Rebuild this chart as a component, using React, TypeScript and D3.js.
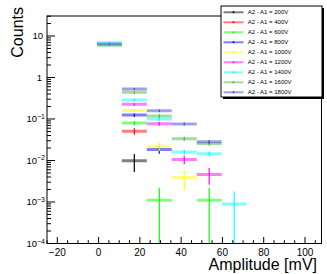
import React from "react";
import * as d3 from "d3";

// ---- data ----
const xMin = -25;
const xMax = 108;
const nBins = 11;
const firstBin = 2; // index of first populated bin (values below start here)

const seriesLabels = [
  "A2 - A1 = 200V",
  "A2 - A1 = 400V",
  "A2 - A1 = 600V",
  "A2 - A1 = 800V",
  "A2 - A1 = 1000V",
  "A2 - A1 = 1200V",
  "A2 - A1 = 1400V",
  "A2 - A1 = 1600V",
  "A2 - A1 = 1800V",
];

const v200 = [null, 0.0098, null, null, null, null];
const v400 = [null, 0.051, null, null, null, null];
const v600 = [null, 0.08, 0.0011, null, 0.0011, null];
const v800 = [null, 0.124, 0.0185, null, null, null];
const v1000 = [null, 0.161, 0.0219, 0.0039, null, null];
const v1200 = [null, 0.225, 0.0767, 0.0106, 0.0046, null];
const v1400 = [6.9, 0.286, 0.1, 0.016, 0.0145, 0.00089];
const v1600 = [6.0, 0.438, 0.118, 0.0334, 0.0256, null];
const v1800 = [6.4, 0.527, 0.158, 0.0755, 0.0282, null];

const e200 = [null, 0.0045, null, null, null, null];
const e400 = [null, 0.009, null, null, null, null];
const e600 = [null, 0.0096, 0.0011, null, 0.0011, null];
const e800 = [null, 0.012, 0.004, null, null, null];
const e1000 = [null, 0.012, 0.005, 0.002, null, null];
const e1200 = [null, 0.015, 0.008, 0.0025, 0.002, null];
const e1400 = [0.15, 0.02, 0.01, 0.0023, 0.002, 0.00089];
const e1600 = [0.15, 0.03, 0.012, 0.004, 0.003, null];
const e1800 = [0.15, 0.03, 0.012, 0.006, 0.003, null];

const seriesValues = [v200, v400, v600, v800, v1000, v1200, v1400, v1600, v1800];
const seriesErrors = [e200, e400, e600, e800, e1000, e1200, e1400, e1600, e1800];

const xTickValues = [-20, 0, 20, 40, 60, 80, 100];
const yDecades = [-4, -3, -2, -1, 0, 1];

// ---- styles ----
const colors = [
  "#000000",
  "#ff0000",
  "#00ff00",
  "#0000ff",
  "#ffff00",
  "#ff00ff",
  "#00ffff",
  "#44bb44",
  "#4444cc",
];
const FONT = "'Liberation Sans', Arial, Helvetica, sans-serif";

export default function App() {
  const W = 327;
  const H = 274;
  const left = 47;
  const right = 321.5;
  const top = 16;
  const bottom = 243.5;

  const x = d3.scaleLinear().domain([xMin, xMax]).range([left, right]);
  const y = d3.scaleLog().domain([1e-4, 30.3]).range([bottom, top]);
  const bw = (xMax - xMin) / nBins;

  const xMinor = d3.range(-25, 108, 5);
  const yMinor: number[] = [];
  for (let d = -4; d <= 1; d++) {
    for (let m = 2; m <= 9; m++) {
      const v = m * Math.pow(10, d);
      if (v <= 30.3) yMinor.push(v);
    }
  }

  const marks: React.ReactNode[] = [];
  seriesValues.forEach((vals, si) => {
    vals.forEach((v, i) => {
      if (v == null) return;
      const e = seriesErrors[si][i] as number;
      const b = firstBin + i;
      const x0 = x(xMin + b * bw);
      const x1 = x(xMin + (b + 1) * bw);
      const xc = x(xMin + (b + 0.5) * bw);
      const yv = y(v);
      const yTop = y(v + e);
      const yBot = v - e > 1e-4 ? y(v - e) : bottom;
      marks.push(
        <g key={`${si}-${i}`}>
          <line x1={x0} x2={x1} y1={yv} y2={yv} stroke={colors[si]} strokeWidth={3} strokeOpacity={0.5} />
          <line x1={xc} x2={xc} y1={yTop} y2={yBot} stroke={colors[si]} strokeWidth={1.3} strokeOpacity={0.9} />
        </g>
      );
    });
  });

  const legX = 221;
  const legY = 6;
  const legW = 101;
  const legH = 91;

  return (
    <svg width={W} height={H} style={{ position: "absolute", left: 0, top: 0, background: "#fff" }} fontFamily={FONT}>
      <rect x={0} y={0} width={W} height={H} fill="#fff" />
      <g clipPath="url(#plotclip)">{marks}</g>
      <defs>
        <clipPath id="plotclip">
          <rect x={left} y={top} width={right - left} height={bottom - top} />
        </clipPath>
      </defs>
      {/* frame */}
      <rect x={left} y={top} width={right - left} height={bottom - top} fill="none" stroke="#000" strokeWidth={1} />
      {/* x ticks */}
      {xMinor.map((t) => (
        <line key={`xm${t}`} x1={x(t)} x2={x(t)} y1={bottom} y2={bottom - (t % 20 === 0 ? 6.5 : 3.3)} stroke="#000" strokeWidth={1} />
      ))}
      {xTickValues.map((t) => (
        <text key={`xl${t}`} x={x(t)} y={255.5} fontSize={10} textAnchor="middle" fill="#000">
          {t < 0 ? `\u2212${Math.abs(t)}` : t}
        </text>
      ))}
      {/* y ticks */}
      {yMinor.map((v, i) => (
        <line key={`ym${i}`} x1={left} x2={left + 4} y1={y(v)} y2={y(v)} stroke="#000" strokeWidth={1} />
      ))}
      {yDecades.map((d) => (
        <line key={`yM${d}`} x1={left} x2={left + 8} y1={y(Math.pow(10, d))} y2={y(Math.pow(10, d))} stroke="#000" strokeWidth={1} />
      ))}
      {yDecades.map((d) => {
        const yy = y(Math.pow(10, d)) + 3.5;
        if (d === 0)
          return (
            <text key={`yl${d}`} x={42} y={yy} fontSize={9.5} textAnchor="end">1</text>
          );
        if (d === 1)
          return (
            <text key={`yl${d}`} x={43} y={yy} fontSize={9.5} textAnchor="end">10</text>
          );
        return (
          <text key={`yl${d}`} x={45} y={yy} fontSize={9.5} textAnchor="end">
            10
            <tspan fontSize={7} dy={-3.5}>{`\u2212${Math.abs(d)}`}</tspan>
          </text>
        );
      })}
      {/* axis titles */}
      <text x={0} y={0} fontSize={16} textAnchor="end" transform="translate(23,7) rotate(-90)">Counts</text>
      <text x={317} y={270} fontSize={16} textAnchor="end">Amplitude [mV]</text>
      {/* legend */}
      <rect x={legX + 2} y={legY + 2} width={legW} height={legH} fill="#000" />
      <rect x={legX} y={legY} width={legW} height={legH} fill="#fff" stroke="#000" strokeWidth={1} />
      {seriesLabels.map((lab, i) => {
        const ly = 12.3 + i * 10;
        return (
          <g key={lab}>
            <line x1={223.5} x2={243.5} y1={ly} y2={ly} stroke={colors[i]} strokeWidth={2} strokeOpacity={0.5} />
            <circle cx={233.5} cy={ly} r={1} fill={colors[i]} />
            <text x={247.7} y={ly + 2.1} fontSize={6} fill="#000">{lab}</text>
          </g>
        );
      })}
    </svg>
  );
}
